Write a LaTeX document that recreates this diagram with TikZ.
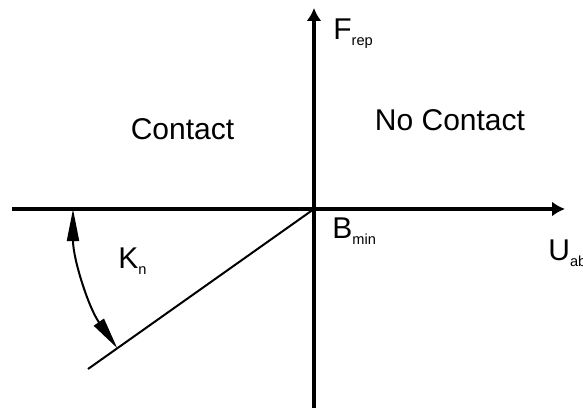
\documentclass[tikz,border=0pt]{standalone}
\usepackage{fontspec}
\setmainfont{Liberation Sans}
\usepackage{tikz}
\usetikzlibrary{arrows.meta,calc}
\newcommand{\sublbl}[2]{#1\raisebox{-3pt}{\fontsize{7.3}{8}\selectfont #2}}

\begin{document}
\begin{tikzpicture}[x=0.5pt,y=0.5pt,font=\fontsize{15}{18}\selectfont,
  axis/.style={line width=1.75pt,-{Latex[length=6.5pt,width=7.5pt]}},
  slope/.style={line width=1pt},
  angarrow/.style={line width=1pt,{Triangle[length=16pt,width=6pt]}-{Triangle[length=16pt,width=6pt]}},
  lbl/.style={anchor=base west,inner sep=0pt},
  region/.style={anchor=base,inner sep=0pt}]
  \useasboundingbox (-314,-198) rectangle (269,209);

  % ---------- axes ----------
  \coordinate (O) at (0,0);
  \coordinate (xl) at (-302,0);
  \coordinate (xr) at (251,0);
  \coordinate (yb) at (0,-202);
  \coordinate (yt) at (0,201);
  \draw[axis] (xl)--(xr);
  \draw[axis] (yb)--(yt);

  % ---------- contact slope ----------
  \coordinate (se) at (-226,-160);
  \draw[slope] (O)--(se);
  \coordinate (arcs) at (180:241);
  \draw[angarrow] (arcs) arc[start angle=180,end angle=215.3,radius=241];

  % ---------- labels ----------
  \node[lbl] (frep) at (19,169) {\sublbl{F}{rep}};
  \node[lbl] (bmin) at (18,-29) {\sublbl{B}{min}};
  \node[lbl] (uab) at (234,-51) {\sublbl{U}{ab}};
  \node[lbl] (kn) at (-196,-59) {\sublbl{K}{n}};
  \node[region] (cont) at (-131.5,69) {Contact};
  \node[region] (nocont) at (136,78) {No Contact};
\end{tikzpicture}
\end{document}
